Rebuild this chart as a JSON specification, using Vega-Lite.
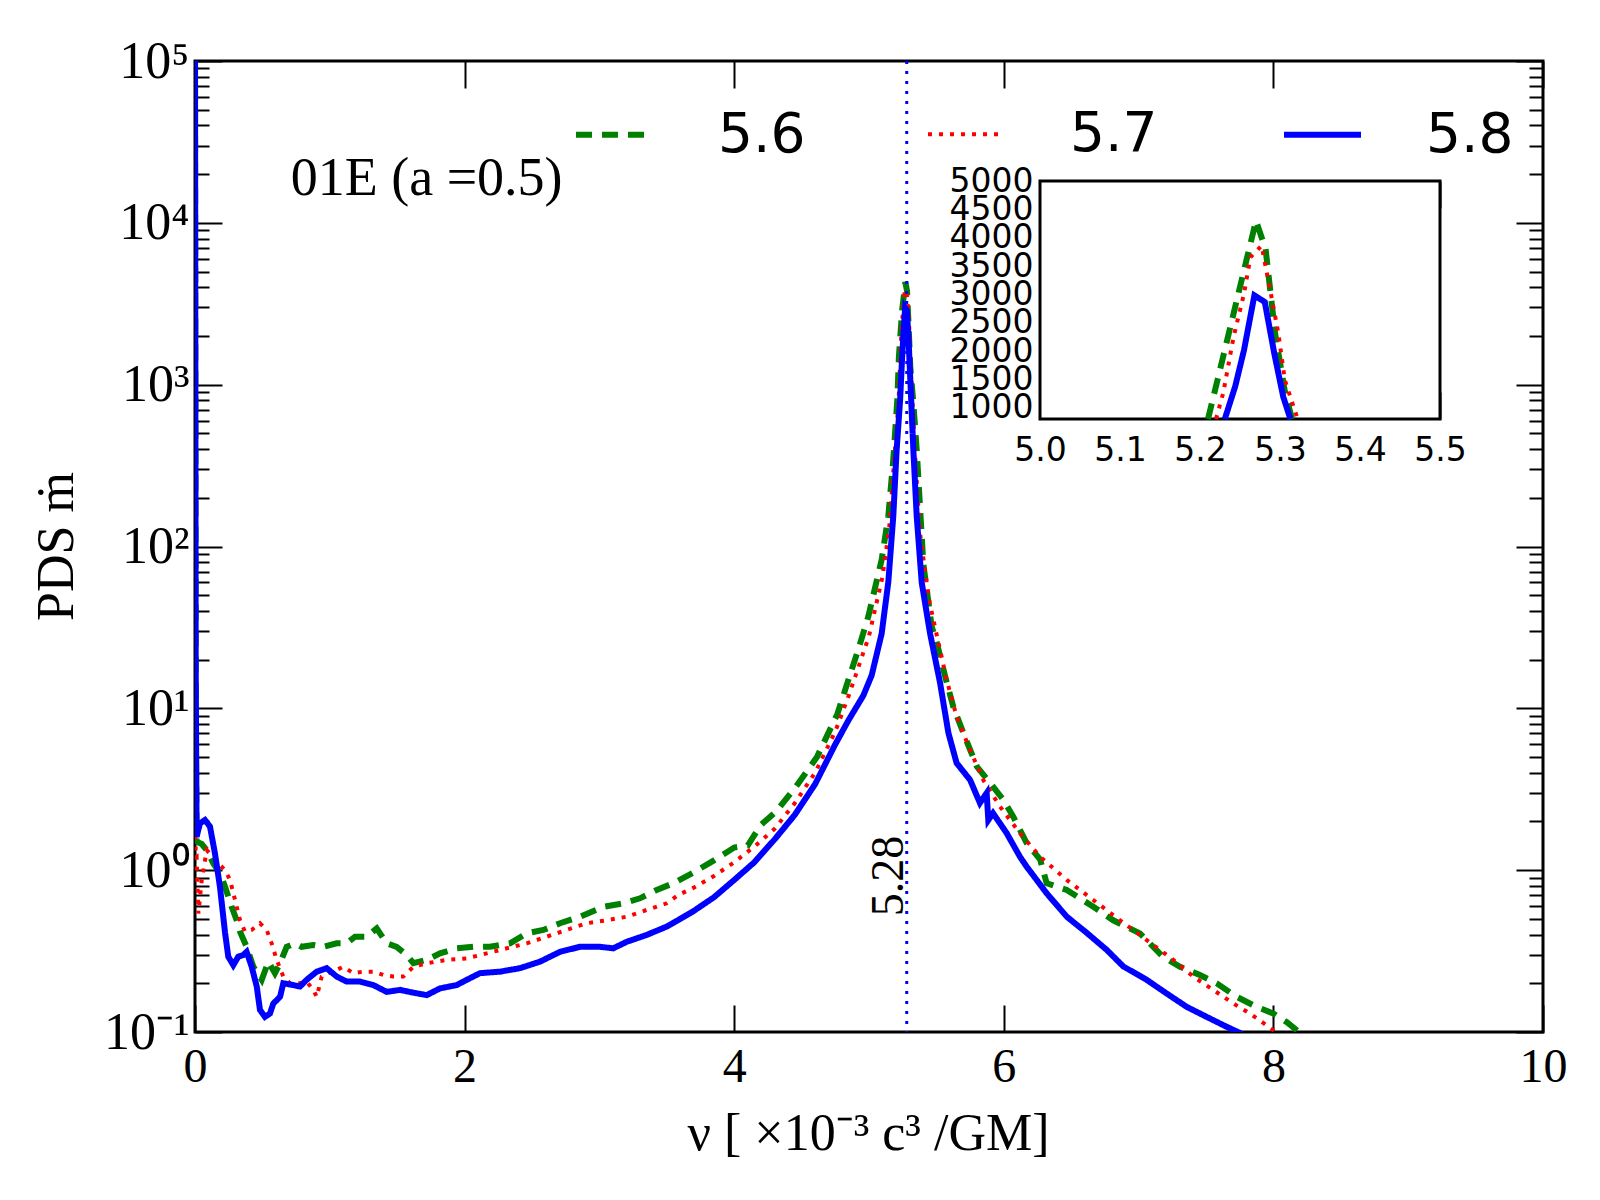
{
  "$schema": "https://vega.github.io/schema/vega-lite/v6.json",
  "width": 1348,
  "height": 971,
  "autosize": {"type": "none"},
  "padding": {"left": 195, "top": 61, "right": 57, "bottom": 168},
  "background": "white",
  "datasets": {
    "pds": [
      {"run": "5.6", "nu": 0.0, "pds": 150000}, {"run": "5.6", "nu": 0.005, "pds": 10}, {"run": "5.6", "nu": 0.012, "pds": 1.5},
      {"run": "5.6", "nu": 0.05, "pds": 1.45}, {"run": "5.6", "nu": 0.087, "pds": 1.33}, {"run": "5.6", "nu": 0.136, "pds": 1.1},
      {"run": "5.6", "nu": 0.185, "pds": 0.96}, {"run": "5.6", "nu": 0.223, "pds": 0.79}, {"run": "5.6", "nu": 0.272, "pds": 0.594},
      {"run": "5.6", "nu": 0.309, "pds": 0.49}, {"run": "5.6", "nu": 0.334, "pds": 0.417}, {"run": "5.6", "nu": 0.383, "pds": 0.336},
      {"run": "5.6", "nu": 0.433, "pds": 0.253}, {"run": "5.6", "nu": 0.495, "pds": 0.21}, {"run": "5.6", "nu": 0.544, "pds": 0.272},
      {"run": "5.6", "nu": 0.593, "pds": 0.231}, {"run": "5.6", "nu": 0.631, "pds": 0.266}, {"run": "5.6", "nu": 0.68, "pds": 0.336},
      {"run": "5.6", "nu": 0.742, "pds": 0.353}, {"run": "5.6", "nu": 0.791, "pds": 0.336}, {"run": "5.6", "nu": 0.878, "pds": 0.345},
      {"run": "5.6", "nu": 0.952, "pds": 0.336}, {"run": "5.6", "nu": 1.051, "pds": 0.353}, {"run": "5.6", "nu": 1.125, "pds": 0.353},
      {"run": "5.6", "nu": 1.187, "pds": 0.388}, {"run": "5.6", "nu": 1.274, "pds": 0.388}, {"run": "5.6", "nu": 1.348, "pds": 0.437},
      {"run": "5.6", "nu": 1.422, "pds": 0.353}, {"run": "5.6", "nu": 1.496, "pds": 0.336}, {"run": "5.6", "nu": 1.57, "pds": 0.299},
      {"run": "5.6", "nu": 1.62, "pds": 0.266}, {"run": "5.6", "nu": 1.719, "pds": 0.279}, {"run": "5.6", "nu": 1.818, "pds": 0.306},
      {"run": "5.6", "nu": 1.941, "pds": 0.329}, {"run": "5.6", "nu": 2.065, "pds": 0.336}, {"run": "5.6", "nu": 2.188, "pds": 0.336},
      {"run": "5.6", "nu": 2.337, "pds": 0.353}, {"run": "5.6", "nu": 2.461, "pds": 0.407}, {"run": "5.6", "nu": 2.584, "pds": 0.427},
      {"run": "5.6", "nu": 2.708, "pds": 0.47}, {"run": "5.6", "nu": 2.856, "pds": 0.516}, {"run": "5.6", "nu": 3.029, "pds": 0.594},
      {"run": "5.6", "nu": 3.177, "pds": 0.624}, {"run": "5.6", "nu": 3.301, "pds": 0.67}, {"run": "5.6", "nu": 3.425, "pds": 0.755},
      {"run": "5.6", "nu": 3.548, "pds": 0.83}, {"run": "5.6", "nu": 3.7, "pds": 0.97}, {"run": "5.6", "nu": 3.85, "pds": 1.15},
      {"run": "5.6", "nu": 4.0, "pds": 1.38}, {"run": "5.6", "nu": 4.1, "pds": 1.42}, {"run": "5.6", "nu": 4.197, "pds": 1.9},
      {"run": "5.6", "nu": 4.31, "pds": 2.3}, {"run": "5.6", "nu": 4.46, "pds": 3.3}, {"run": "5.6", "nu": 4.614, "pds": 5.0},
      {"run": "5.6", "nu": 4.765, "pds": 9.2}, {"run": "5.6", "nu": 4.847, "pds": 15}, {"run": "5.6", "nu": 4.92, "pds": 23},
      {"run": "5.6", "nu": 4.995, "pds": 37}, {"run": "5.6", "nu": 5.094, "pds": 83}, {"run": "5.6", "nu": 5.143, "pds": 153},
      {"run": "5.6", "nu": 5.18, "pds": 343}, {"run": "5.6", "nu": 5.21, "pds": 806}, {"run": "5.6", "nu": 5.222, "pds": 1500},
      {"run": "5.6", "nu": 5.246, "pds": 2900}, {"run": "5.6", "nu": 5.27, "pds": 4300}, {"run": "5.6", "nu": 5.282, "pds": 3800},
      {"run": "5.6", "nu": 5.294, "pds": 2300}, {"run": "5.6", "nu": 5.306, "pds": 1300}, {"run": "5.6", "nu": 5.33, "pds": 750},
      {"run": "5.6", "nu": 5.354, "pds": 395}, {"run": "5.6", "nu": 5.403, "pds": 78}, {"run": "5.6", "nu": 5.465, "pds": 32},
      {"run": "5.6", "nu": 5.5, "pds": 26}, {"run": "5.6", "nu": 5.577, "pds": 14.4}, {"run": "5.6", "nu": 5.626, "pds": 10.2},
      {"run": "5.6", "nu": 5.7, "pds": 7.05}, {"run": "5.6", "nu": 5.8, "pds": 4.37}, {"run": "5.6", "nu": 5.898, "pds": 3.46},
      {"run": "5.6", "nu": 5.997, "pds": 2.72}, {"run": "5.6", "nu": 6.07, "pds": 2.14}, {"run": "5.6", "nu": 6.17, "pds": 1.47},
      {"run": "5.6", "nu": 6.27, "pds": 1.16}, {"run": "5.6", "nu": 6.318, "pds": 0.83}, {"run": "5.6", "nu": 6.467, "pds": 0.755},
      {"run": "5.6", "nu": 6.664, "pds": 0.594}, {"run": "5.6", "nu": 6.812, "pds": 0.49}, {"run": "5.6", "nu": 7.01, "pds": 0.407},
      {"run": "5.6", "nu": 7.18, "pds": 0.292}, {"run": "5.6", "nu": 7.307, "pds": 0.253}, {"run": "5.6", "nu": 7.455, "pds": 0.225},
      {"run": "5.6", "nu": 7.579, "pds": 0.2}, {"run": "5.6", "nu": 7.727, "pds": 0.165}, {"run": "5.6", "nu": 7.876, "pds": 0.143},
      {"run": "5.6", "nu": 8.0, "pds": 0.13}, {"run": "5.6", "nu": 8.1, "pds": 0.115}, {"run": "5.6", "nu": 8.19, "pds": 0.1},
      {"run": "5.6", "nu": 8.25, "pds": 0.09},

      {"run": "5.7", "nu": 0.0, "pds": 150000}, {"run": "5.7", "nu": 0.005, "pds": 1.2}, {"run": "5.7", "nu": 0.012, "pds": 1.21},
      {"run": "5.7", "nu": 0.025, "pds": 0.54}, {"run": "5.7", "nu": 0.05, "pds": 0.87}, {"run": "5.7", "nu": 0.087, "pds": 1.33},
      {"run": "5.7", "nu": 0.161, "pds": 1.13}, {"run": "5.7", "nu": 0.223, "pds": 1.0}, {"run": "5.7", "nu": 0.26, "pds": 0.87},
      {"run": "5.7", "nu": 0.297, "pds": 0.654}, {"run": "5.7", "nu": 0.334, "pds": 0.49}, {"run": "5.7", "nu": 0.371, "pds": 0.417},
      {"run": "5.7", "nu": 0.42, "pds": 0.427}, {"run": "5.7", "nu": 0.482, "pds": 0.47}, {"run": "5.7", "nu": 0.532, "pds": 0.427},
      {"run": "5.7", "nu": 0.569, "pds": 0.353}, {"run": "5.7", "nu": 0.606, "pds": 0.279}, {"run": "5.7", "nu": 0.655, "pds": 0.22},
      {"run": "5.7", "nu": 0.705, "pds": 0.2}, {"run": "5.7", "nu": 0.779, "pds": 0.2}, {"run": "5.7", "nu": 0.828, "pds": 0.205},
      {"run": "5.7", "nu": 0.878, "pds": 0.182}, {"run": "5.7", "nu": 0.903, "pds": 0.165}, {"run": "5.7", "nu": 0.94, "pds": 0.22},
      {"run": "5.7", "nu": 0.989, "pds": 0.231}, {"run": "5.7", "nu": 1.051, "pds": 0.242}, {"run": "5.7", "nu": 1.1, "pds": 0.253},
      {"run": "5.7", "nu": 1.174, "pds": 0.231}, {"run": "5.7", "nu": 1.249, "pds": 0.236}, {"run": "5.7", "nu": 1.323, "pds": 0.236},
      {"run": "5.7", "nu": 1.397, "pds": 0.225}, {"run": "5.7", "nu": 1.471, "pds": 0.22}, {"run": "5.7", "nu": 1.545, "pds": 0.22},
      {"run": "5.7", "nu": 1.62, "pds": 0.253}, {"run": "5.7", "nu": 1.719, "pds": 0.266}, {"run": "5.7", "nu": 1.867, "pds": 0.279},
      {"run": "5.7", "nu": 2.015, "pds": 0.285}, {"run": "5.7", "nu": 2.164, "pds": 0.306}, {"run": "5.7", "nu": 2.312, "pds": 0.329},
      {"run": "5.7", "nu": 2.461, "pds": 0.353}, {"run": "5.7", "nu": 2.609, "pds": 0.388}, {"run": "5.7", "nu": 2.757, "pds": 0.427},
      {"run": "5.7", "nu": 2.906, "pds": 0.47}, {"run": "5.7", "nu": 3.054, "pds": 0.49}, {"run": "5.7", "nu": 3.203, "pds": 0.516},
      {"run": "5.7", "nu": 3.351, "pds": 0.568}, {"run": "5.7", "nu": 3.499, "pds": 0.624}, {"run": "5.7", "nu": 3.586, "pds": 0.703},
      {"run": "5.7", "nu": 3.7, "pds": 0.78}, {"run": "5.7", "nu": 3.85, "pds": 0.92}, {"run": "5.7", "nu": 4.0, "pds": 1.12},
      {"run": "5.7", "nu": 4.15, "pds": 1.4}, {"run": "5.7", "nu": 4.3, "pds": 1.8}, {"run": "5.7", "nu": 4.45, "pds": 2.6},
      {"run": "5.7", "nu": 4.6, "pds": 4.0}, {"run": "5.7", "nu": 4.75, "pds": 7.2}, {"run": "5.7", "nu": 4.85, "pds": 12},
      {"run": "5.7", "nu": 5.0, "pds": 28}, {"run": "5.7", "nu": 5.1, "pds": 65}, {"run": "5.7", "nu": 5.15, "pds": 130},
      {"run": "5.7", "nu": 5.2, "pds": 480}, {"run": "5.7", "nu": 5.22, "pds": 807}, {"run": "5.7", "nu": 5.229, "pds": 1263},
      {"run": "5.7", "nu": 5.242, "pds": 2254}, {"run": "5.7", "nu": 5.255, "pds": 3013}, {"run": "5.7", "nu": 5.263, "pds": 3655},
      {"run": "5.7", "nu": 5.277, "pds": 3860}, {"run": "5.7", "nu": 5.287, "pds": 3130}, {"run": "5.7", "nu": 5.298, "pds": 2313},
      {"run": "5.7", "nu": 5.306, "pds": 1496}, {"run": "5.7", "nu": 5.316, "pds": 1026}, {"run": "5.7", "nu": 5.34, "pds": 395},
      {"run": "5.7", "nu": 5.378, "pds": 121}, {"run": "5.7", "nu": 5.428, "pds": 59.6}, {"run": "5.7", "nu": 5.45, "pds": 45},
      {"run": "5.7", "nu": 5.5, "pds": 29}, {"run": "5.7", "nu": 5.527, "pds": 23}, {"run": "5.7", "nu": 5.576, "pds": 15},
      {"run": "5.7", "nu": 5.65, "pds": 8.9}, {"run": "5.7", "nu": 5.75, "pds": 5.53}, {"run": "5.7", "nu": 5.848, "pds": 3.6},
      {"run": "5.7", "nu": 5.972, "pds": 2.47}, {"run": "5.7", "nu": 6.12, "pds": 1.69}, {"run": "5.7", "nu": 6.27, "pds": 1.21},
      {"run": "5.7", "nu": 6.467, "pds": 0.87}, {"run": "5.7", "nu": 6.664, "pds": 0.654}, {"run": "5.7", "nu": 6.862, "pds": 0.49},
      {"run": "5.7", "nu": 7.06, "pds": 0.37}, {"run": "5.7", "nu": 7.257, "pds": 0.279}, {"run": "5.7", "nu": 7.406, "pds": 0.22},
      {"run": "5.7", "nu": 7.554, "pds": 0.182}, {"run": "5.7", "nu": 7.703, "pds": 0.15}, {"run": "5.7", "nu": 7.826, "pds": 0.13},
      {"run": "5.7", "nu": 7.95, "pds": 0.11}, {"run": "5.7", "nu": 8.02, "pds": 0.1}, {"run": "5.7", "nu": 8.08, "pds": 0.09},

      {"run": "5.8", "nu": 0.0, "pds": 150000}, {"run": "5.8", "nu": 0.005, "pds": 20}, {"run": "5.8", "nu": 0.012, "pds": 1.61},
      {"run": "5.8", "nu": 0.037, "pds": 1.95}, {"run": "5.8", "nu": 0.074, "pds": 2.04}, {"run": "5.8", "nu": 0.111, "pds": 1.86},
      {"run": "5.8", "nu": 0.148, "pds": 1.27}, {"run": "5.8", "nu": 0.185, "pds": 0.79}, {"run": "5.8", "nu": 0.223, "pds": 0.41},
      {"run": "5.8", "nu": 0.247, "pds": 0.292}, {"run": "5.8", "nu": 0.284, "pds": 0.259}, {"run": "5.8", "nu": 0.321, "pds": 0.292},
      {"run": "5.8", "nu": 0.358, "pds": 0.299}, {"run": "5.8", "nu": 0.383, "pds": 0.313}, {"run": "5.8", "nu": 0.42, "pds": 0.254},
      {"run": "5.8", "nu": 0.458, "pds": 0.191}, {"run": "5.8", "nu": 0.482, "pds": 0.137}, {"run": "5.8", "nu": 0.519, "pds": 0.124},
      {"run": "5.8", "nu": 0.556, "pds": 0.13}, {"run": "5.8", "nu": 0.581, "pds": 0.15}, {"run": "5.8", "nu": 0.631, "pds": 0.165},
      {"run": "5.8", "nu": 0.655, "pds": 0.2}, {"run": "5.8", "nu": 0.729, "pds": 0.195}, {"run": "5.8", "nu": 0.779, "pds": 0.191},
      {"run": "5.8", "nu": 0.828, "pds": 0.21}, {"run": "5.8", "nu": 0.903, "pds": 0.236}, {"run": "5.8", "nu": 0.977, "pds": 0.248},
      {"run": "5.8", "nu": 1.051, "pds": 0.22}, {"run": "5.8", "nu": 1.125, "pds": 0.205}, {"run": "5.8", "nu": 1.224, "pds": 0.205},
      {"run": "5.8", "nu": 1.323, "pds": 0.195}, {"run": "5.8", "nu": 1.422, "pds": 0.177}, {"run": "5.8", "nu": 1.521, "pds": 0.182},
      {"run": "5.8", "nu": 1.62, "pds": 0.175}, {"run": "5.8", "nu": 1.719, "pds": 0.169}, {"run": "5.8", "nu": 1.818, "pds": 0.186},
      {"run": "5.8", "nu": 1.941, "pds": 0.195}, {"run": "5.8", "nu": 2.04, "pds": 0.215}, {"run": "5.8", "nu": 2.114, "pds": 0.231},
      {"run": "5.8", "nu": 2.263, "pds": 0.236}, {"run": "5.8", "nu": 2.411, "pds": 0.248}, {"run": "5.8", "nu": 2.559, "pds": 0.272},
      {"run": "5.8", "nu": 2.708, "pds": 0.313}, {"run": "5.8", "nu": 2.856, "pds": 0.336}, {"run": "5.8", "nu": 3.004, "pds": 0.336},
      {"run": "5.8", "nu": 3.103, "pds": 0.329}, {"run": "5.8", "nu": 3.203, "pds": 0.361}, {"run": "5.8", "nu": 3.351, "pds": 0.398},
      {"run": "5.8", "nu": 3.499, "pds": 0.448}, {"run": "5.8", "nu": 3.586, "pds": 0.492}, {"run": "5.8", "nu": 3.7, "pds": 0.56},
      {"run": "5.8", "nu": 3.85, "pds": 0.68}, {"run": "5.8", "nu": 4.0, "pds": 0.87}, {"run": "5.8", "nu": 4.15, "pds": 1.12},
      {"run": "5.8", "nu": 4.3, "pds": 1.55}, {"run": "5.8", "nu": 4.45, "pds": 2.2}, {"run": "5.8", "nu": 4.6, "pds": 3.4},
      {"run": "5.8", "nu": 4.75, "pds": 6.0}, {"run": "5.8", "nu": 4.85, "pds": 8.5}, {"run": "5.8", "nu": 4.958, "pds": 12},
      {"run": "5.8", "nu": 5.02, "pds": 16}, {"run": "5.8", "nu": 5.094, "pds": 29}, {"run": "5.8", "nu": 5.143, "pds": 60},
      {"run": "5.8", "nu": 5.18, "pds": 153}, {"run": "5.8", "nu": 5.205, "pds": 395}, {"run": "5.8", "nu": 5.231, "pds": 807},
      {"run": "5.8", "nu": 5.244, "pds": 1380}, {"run": "5.8", "nu": 5.255, "pds": 2020}, {"run": "5.8", "nu": 5.268, "pds": 2985},
      {"run": "5.8", "nu": 5.281, "pds": 2867}, {"run": "5.8", "nu": 5.293, "pds": 1950}, {"run": "5.8", "nu": 5.304, "pds": 1200},
      {"run": "5.8", "nu": 5.329, "pds": 395}, {"run": "5.8", "nu": 5.354, "pds": 153}, {"run": "5.8", "nu": 5.391, "pds": 60},
      {"run": "5.8", "nu": 5.453, "pds": 29}, {"run": "5.8", "nu": 5.527, "pds": 14.4}, {"run": "5.8", "nu": 5.589, "pds": 7.05},
      {"run": "5.8", "nu": 5.65, "pds": 4.59}, {"run": "5.8", "nu": 5.75, "pds": 3.61}, {"run": "5.8", "nu": 5.823, "pds": 2.6},
      {"run": "5.8", "nu": 5.873, "pds": 3.0}, {"run": "5.8", "nu": 5.885, "pds": 2.04}, {"run": "5.8", "nu": 5.92, "pds": 2.25},
      {"run": "5.8", "nu": 6.02, "pds": 1.7}, {"run": "5.8", "nu": 6.12, "pds": 1.21}, {"run": "5.8", "nu": 6.17, "pds": 1.05},
      {"run": "5.8", "nu": 6.244, "pds": 0.87}, {"run": "5.8", "nu": 6.318, "pds": 0.72}, {"run": "5.8", "nu": 6.467, "pds": 0.516},
      {"run": "5.8", "nu": 6.615, "pds": 0.41}, {"run": "5.8", "nu": 6.763, "pds": 0.322}, {"run": "5.8", "nu": 6.887, "pds": 0.254},
      {"run": "5.8", "nu": 7.06, "pds": 0.21}, {"run": "5.8", "nu": 7.208, "pds": 0.173}, {"run": "5.8", "nu": 7.357, "pds": 0.143},
      {"run": "5.8", "nu": 7.505, "pds": 0.124}, {"run": "5.8", "nu": 7.65, "pds": 0.108}, {"run": "5.8", "nu": 7.76, "pds": 0.098},
      {"run": "5.8", "nu": 7.8, "pds": 0.09}
    ],
    "inset": [
      {"run": "5.6", "nu": 5.21, "pds": 806}, {"run": "5.6", "nu": 5.222, "pds": 1500}, {"run": "5.6", "nu": 5.246, "pds": 2900},
      {"run": "5.6", "nu": 5.27, "pds": 4300}, {"run": "5.6", "nu": 5.282, "pds": 3800}, {"run": "5.6", "nu": 5.294, "pds": 2300},
      {"run": "5.6", "nu": 5.306, "pds": 1300}, {"run": "5.6", "nu": 5.315, "pds": 806},
      {"run": "5.7", "nu": 5.22, "pds": 806}, {"run": "5.7", "nu": 5.229, "pds": 1263}, {"run": "5.7", "nu": 5.242, "pds": 2254},
      {"run": "5.7", "nu": 5.255, "pds": 3013}, {"run": "5.7", "nu": 5.263, "pds": 3655}, {"run": "5.7", "nu": 5.277, "pds": 3860},
      {"run": "5.7", "nu": 5.287, "pds": 3130}, {"run": "5.7", "nu": 5.298, "pds": 2313}, {"run": "5.7", "nu": 5.306, "pds": 1496},
      {"run": "5.7", "nu": 5.322, "pds": 806},
      {"run": "5.8", "nu": 5.231, "pds": 806}, {"run": "5.8", "nu": 5.244, "pds": 1380}, {"run": "5.8", "nu": 5.255, "pds": 2020},
      {"run": "5.8", "nu": 5.268, "pds": 2985}, {"run": "5.8", "nu": 5.281, "pds": 2867}, {"run": "5.8", "nu": 5.293, "pds": 1950},
      {"run": "5.8", "nu": 5.304, "pds": 1200}, {"run": "5.8", "nu": 5.313, "pds": 806}
    ],
    "label01e": [{"nu": 0.71, "pds": 18700, "label": "01E (a =0.5)"}],
    "label528": [{"nu": 5.252, "pds": 0.92, "label": "5.28"}]
  },
  "layer": [
    {
      "data": {"name": "pds"},
      "mark": {"type": "line", "clip": true, "strokeCap": "butt"},
      "encoding": {
        "x": {
          "field": "nu", "type": "quantitative",
          "scale": {"domain": [0, 10], "nice": false, "zero": false},
          "axis": {
            "orient": "bottom", "values": [0, 2, 4, 6, 8, 10], "tickSize": -27, "labelPadding": 38,
            "labelFlush": false, "labelOverlap": false, "labelBaseline": "top",
            "title": "ν [ ×10⁻³ c³ /GM]", "titleX": 673, "titleY": 101, "titleBaseline": "middle", "titleAlign": "center"
          }
        },
        "y": {
          "field": "pds", "type": "quantitative",
          "scale": {"type": "log", "domain": [0.1, 100000], "nice": false},
          "axis": {
            "orient": "left", "values": [0.1, 1, 10, 100, 1000, 10000, 100000], "tickSize": -27, "labelPadding": 33,
            "labelFlush": false, "labelOverlap": false, "labelFontSize": 52,
            "labelExpr": "datum.value < 0.5 ? '10⁻¹' : datum.value < 5 ? '10⁰' : datum.value < 50 ? '10¹' : datum.value < 500 ? '10²' : datum.value < 5000 ? '10³' : datum.value < 50000 ? '10⁴' : '10⁵'",
            "title": "PDS ṁ", "titleX": -139, "titleY": 485, "titleAngle": 270, "titleBaseline": "middle", "titleAlign": "center"
          }
        },
        "color": {
          "field": "run", "type": "nominal",
          "scale": {"domain": ["5.6", "5.7", "5.8"], "range": ["#008000", "#ff0000", "#0000ff"]},
          "legend": {
            "orient": "none", "legendX": 378, "legendY": 32, "direction": "horizontal", "columns": 3, "title": null,
            "padding": 0, "symbolType": "stroke", "symbolSize": 5929, "symbolStrokeWidth": 5,
            "labelFont": "DejaVu Sans", "labelFontSize": 55, "labelColor": "black", "labelOffset": 62,
            "columnPadding": 114, "labelLimit": 300
          }
        },
        "strokeDash": {
          "field": "run", "type": "nominal",
          "scale": {"domain": ["5.6", "5.7", "5.8"], "range": [[16, 10], [4, 7], [1, 0]]},
          "legend": {
            "orient": "none", "legendX": 378, "legendY": 32, "direction": "horizontal", "columns": 3, "title": null,
            "padding": 0, "symbolType": "stroke", "symbolSize": 5929, "symbolStrokeWidth": 5,
            "labelFont": "DejaVu Sans", "labelFontSize": 55, "labelColor": "black", "labelOffset": 62,
            "columnPadding": 114, "labelLimit": 300
          }
        },
        "strokeWidth": {
          "field": "run", "type": "nominal",
          "scale": {"type": "ordinal", "domain": ["5.6", "5.7", "5.8"], "range": [6, 4, 6]},
          "legend": null
        }
      }
    },
    {
      "data": {"values": [{}]},
      "mark": {"type": "rule", "color": "#0000ff", "strokeWidth": 3, "strokeDash": [3, 7]},
      "encoding": {
        "x": {
          "datum": 5.28, "type": "quantitative",
          "scale": {"domain": [0, 10], "nice": false, "zero": false},
          "axis": {"orient": "top", "values": [0, 2, 4, 6, 8, 10], "tickSize": -27, "labels": false, "title": null}
        }
      }
    },
    {
      "data": {"name": "label01e"},
      "mark": {"type": "text", "font": "Liberation Serif", "fontSize": 54, "align": "left", "baseline": "middle", "color": "black"},
      "encoding": {
        "x": {"field": "nu", "type": "quantitative", "scale": {"domain": [0, 10], "nice": false, "zero": false}, "axis": null},
        "y": {
          "field": "pds", "type": "quantitative",
          "scale": {"type": "log", "domain": [0.1, 100000], "nice": false},
          "axis": {
            "orient": "left", "tickSize": -14, "labels": false, "title": null,
            "values": [0.2, 0.3, 0.4, 0.5, 0.6, 0.7, 0.8, 0.9, 2, 3, 4, 5, 6, 7, 8, 9, 20, 30, 40, 50, 60, 70, 80, 90, 200, 300, 400, 500, 600, 700, 800, 900, 2000, 3000, 4000, 5000, 6000, 7000, 8000, 9000, 20000, 30000, 40000, 50000, 60000, 70000, 80000, 90000]
          }
        },
        "text": {"field": "label"}
      }
    },
    {
      "data": {"name": "label528"},
      "mark": {"type": "text", "font": "Liberation Serif", "fontSize": 46, "angle": 270, "align": "center", "baseline": "alphabetic", "color": "black"},
      "encoding": {
        "x": {"field": "nu", "type": "quantitative", "scale": {"domain": [0, 10], "nice": false, "zero": false}, "axis": null},
        "y": {
          "field": "pds", "type": "quantitative",
          "scale": {"type": "log", "domain": [0.1, 100000], "nice": false},
          "axis": {"orient": "right", "values": [0.1, 1, 10, 100, 1000, 10000, 100000], "tickSize": -27, "labels": false, "title": null}
        },
        "text": {"field": "label"}
      }
    },
    {
      "data": {"name": "label528"},
      "mark": {"type": "point", "opacity": 0},
      "encoding": {
        "x": {"field": "nu", "type": "quantitative", "scale": {"domain": [0, 10], "nice": false, "zero": false}, "axis": null},
        "y": {
          "field": "pds", "type": "quantitative",
          "scale": {"type": "log", "domain": [0.1, 100000], "nice": false},
          "axis": {
            "orient": "right", "tickSize": -14, "labels": false, "title": null,
            "values": [0.2, 0.3, 0.4, 0.5, 0.6, 0.7, 0.8, 0.9, 2, 3, 4, 5, 6, 7, 8, 9, 20, 30, 40, 50, 60, 70, 80, 90, 200, 300, 400, 500, 600, 700, 800, 900, 2000, 3000, 4000, 5000, 6000, 7000, 8000, 9000, 20000, 30000, 40000, 50000, 60000, 70000, 80000, 90000]
          }
        }
      }
    },
    {
      "data": {"values": [{}]},
      "mark": {"type": "rect", "fill": "white", "stroke": "black", "strokeWidth": 3},
      "encoding": {
        "x": {
          "datum": 5.0, "type": "quantitative",
          "scale": {"domain": [5.0, 5.5], "range": [845, 1245], "nice": false, "zero": false},
          "axis": {"orient": "top", "offset": -120, "values": [5.0, 5.1, 5.2, 5.3, 5.4, 5.5], "tickSize": -27, "labels": false, "title": null}
        },
        "x2": {"datum": 5.5},
        "y": {
          "datum": 806, "type": "quantitative",
          "scale": {"domain": [806, 5000], "range": [358, 120], "nice": false, "zero": false},
          "axis": {"orient": "right", "offset": -103, "values": [1000, 1500, 2000, 2500, 3000, 3500, 4000, 4500, 5000], "tickSize": -27, "labels": false, "title": null}
        },
        "y2": {"datum": 5000}
      }
    },
    {
      "data": {"name": "inset"},
      "mark": {"type": "line", "strokeCap": "butt"},
      "encoding": {
        "x": {
          "field": "nu", "type": "quantitative",
          "scale": {"domain": [5.0, 5.5], "range": [845, 1245], "nice": false, "zero": false},
          "axis": {
            "orient": "bottom", "offset": -613, "values": [5.0, 5.1, 5.2, 5.3, 5.4, 5.5], "format": ".1f",
            "tickSize": -27, "labelPadding": 42, "labelFont": "DejaVu Sans", "labelFontSize": 33,
            "labelFlush": false, "labelOverlap": false, "labelBaseline": "top", "title": null
          }
        },
        "y": {
          "field": "pds", "type": "quantitative",
          "scale": {"domain": [806, 5000], "range": [358, 120], "nice": false, "zero": false},
          "axis": {
            "orient": "left", "offset": -845, "values": [1000, 1500, 2000, 2500, 3000, 3500, 4000, 4500, 5000], "format": "d",
            "tickSize": -27, "labelPadding": 34, "labelFont": "DejaVu Sans", "labelFontSize": 33,
            "labelFlush": false, "labelOverlap": false, "title": null
          }
        },
        "color": {"field": "run", "type": "nominal"},
        "strokeDash": {"field": "run", "type": "nominal"},
        "strokeWidth": {
          "field": "run", "type": "nominal",
          "scale": {"type": "ordinal", "domain": ["5.6", "5.7", "5.8"], "range": [6, 4, 6]},
          "legend": null
        }
      }
    }
  ],
  "resolve": {
    "scale": {"x": "independent", "y": "independent"},
    "axis": {"x": "independent", "y": "independent"}
  },
  "config": {
    "view": {"stroke": "black", "strokeWidth": 3},
    "axis": {
      "domain": false, "grid": false, "tickColor": "black", "tickWidth": 2,
      "labelColor": "black", "labelFont": "Liberation Serif", "labelFontSize": 48,
      "titleFont": "Liberation Serif", "titleFontSize": 52, "titleFontWeight": "normal", "titleColor": "black"
    }
  }
}
